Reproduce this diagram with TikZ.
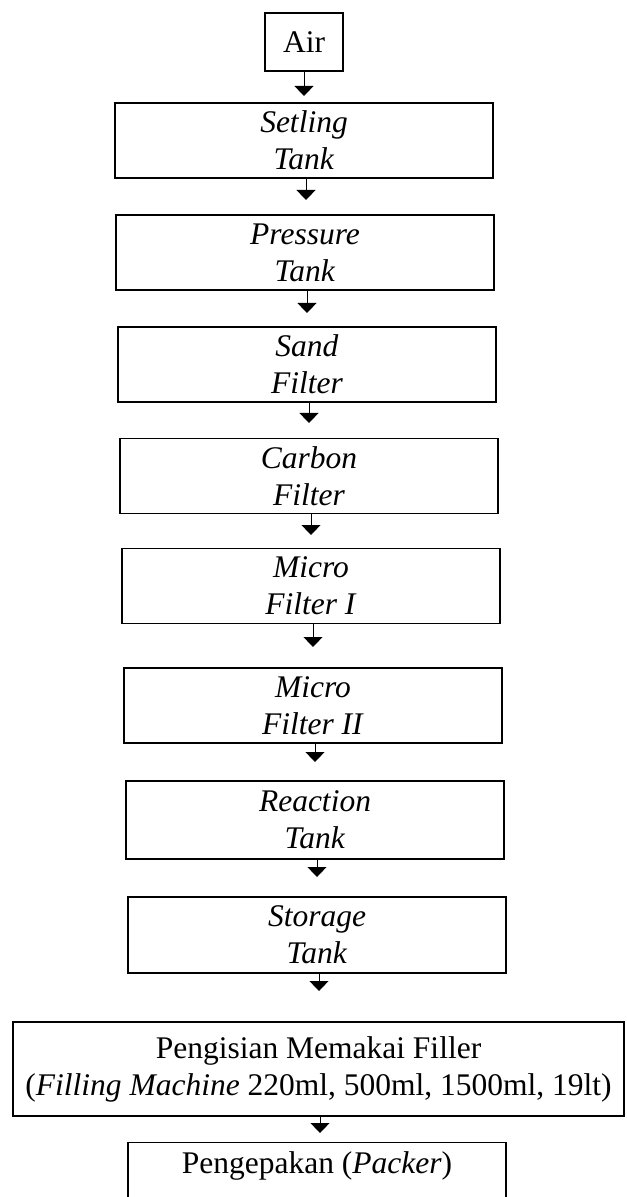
\documentclass[tikz,border=0pt]{standalone}
\usepackage{fontspec}
\setmainfont{Liberation Serif}
\usetikzlibrary{arrows.meta}
\begin{document}
\begin{tikzpicture}[x=0.4pt,y=-0.4pt,
  box/.style={draw,line width=0.55pt,align=center,inner sep=0pt,
    font=\fontsize{12.6}{14.8}\selectfont},
  stepbox/.style={box,minimum width=151.2pt,minimum height=30pt},
  arr/.style={line width=0.4pt,-{Triangle[width=7.6pt,length=4pt]}}]
\useasboundingbox (0,0) rectangle (626,1197);
\node[box,minimum width=31.2pt,minimum height=23.2pt] (air) at (304,42) {Air};
\node[stepbox] (set) at (304,140.5) {\textit{Setling}\\\textit{Tank}};
\node[stepbox] (pre) at (305,252.5) {\textit{Pressure}\\\textit{Tank}};
\node[stepbox] (san) at (307,364.5) {\textit{Sand}\\\textit{Filter}};
\node[stepbox] (car) at (309,476) {\textit{Carbon}\\\textit{Filter}};
\node[stepbox] (mi1) at (311,586) {\textit{Micro}\\\textit{Filter I}};
\node[stepbox] (mi2) at (313,705.5) {\textit{Micro}\\\textit{Filter II}};
\node[stepbox,minimum height=31.2pt] (rea) at (315,820) {\textit{Reaction}\\\textit{Tank}};
\node[stepbox,minimum height=30.4pt] (sto) at (317,935) {\textit{Storage}\\\textit{Tank}};
\node[box,minimum width=244.4pt,minimum height=37.6pt] (fil) at (318.5,1069)
  {Pengisian Memakai Filler\\(\textit{Filling Machine} 220ml, 500ml, 1500ml, 19lt)};
\node[box,anchor=north,minimum width=151.2pt,text height=9pt,text depth=22pt,inner ysep=3.4pt] (pac) at (317,1142)
  {Pengepakan (\textit{Packer})};
\coordinate (t1) at (304,96);
\coordinate (t2) at (306,200);
\coordinate (t3) at (307,313);
\coordinate (t4) at (309,423);
\coordinate (t5) at (311,535);
\coordinate (t6) at (313,647);
\coordinate (t7) at (315,762);
\coordinate (t8) at (317,877);
\coordinate (t9) at (319,991);
\coordinate (t10) at (320,1133);
\draw[arr] (air.south -| t1) -- (t1);
\draw[arr] (set.south -| t2) -- (t2);
\draw[arr] (pre.south -| t3) -- (t3);
\draw[arr] (san.south -| t4) -- (t4);
\draw[arr] (car.south -| t5) -- (t5);
\draw[arr] (mi1.south -| t6) -- (t6);
\draw[arr] (mi2.south -| t7) -- (t7);
\draw[arr] (rea.south -| t8) -- (t8);
\draw[arr] (sto.south -| t9) -- (t9);
\draw[arr] (fil.south -| t10) -- (t10);
\end{tikzpicture}
\end{document}
